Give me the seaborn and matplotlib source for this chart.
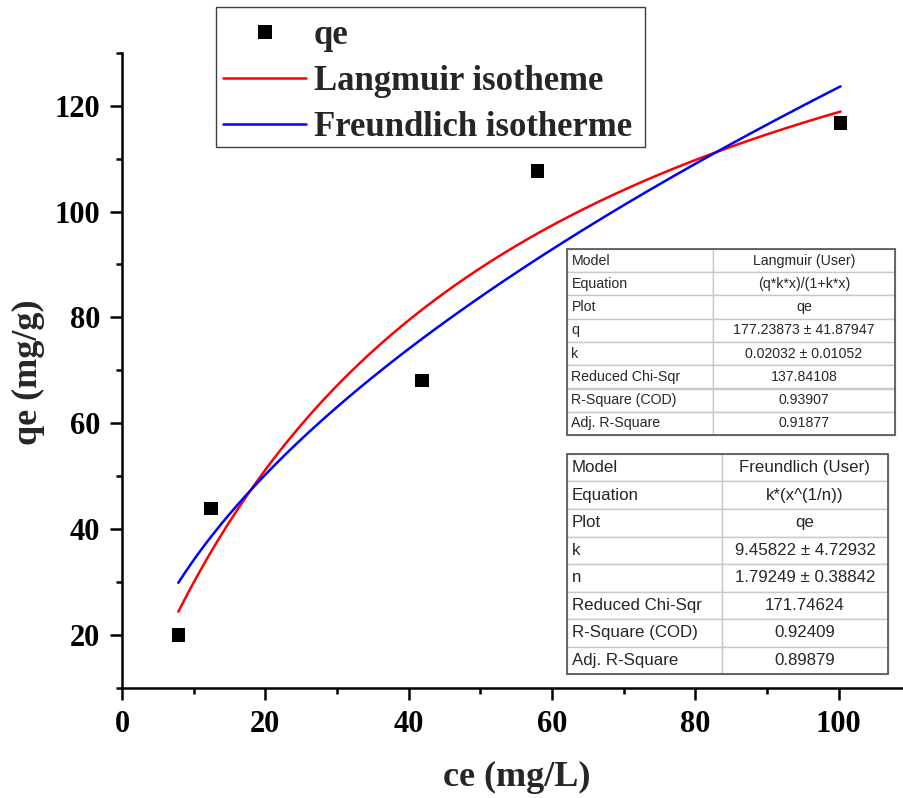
import numpy as np
import pandas as pd
import seaborn as sns
import matplotlib
matplotlib.use("Agg")
import matplotlib.pyplot as plt
from matplotlib.ticker import MultipleLocator
from matplotlib.lines import Line2D
from matplotlib.patches import Rectangle

# Experimental equilibrium data
ce = [7.86, 12.42, 41.83, 57.96, 100.25]
qe = [20.0, 43.9, 68.1, 107.7, 116.7]

# Fitted parameters
langmuir_q = 177.23873
langmuir_k = 0.02032
freundlich_k = 9.45822
freundlich_n = 1.79249

langmuir_rows = ["Model", "Equation", "Plot", "q", "k",
                 "Reduced Chi-Sqr", "R-Square (COD)", "Adj. R-Square"]
langmuir_vals = ["Langmuir (User)", "(q*k*x)/(1+k*x)", "qe",
                 "177.23873 \u00b1 41.87947", "0.02032 \u00b1 0.01052",
                 "137.84108", "0.93907", "0.91877"]
freundlich_rows = ["Model", "Equation", "Plot", "k", "n",
                   "Reduced Chi-Sqr", "R-Square (COD)", "Adj. R-Square"]
freundlich_vals = ["Freundlich (User)", "k*(x^(1/n))", "qe",
                   "9.45822 \u00b1 4.72932", "1.79249 \u00b1 0.38842",
                   "171.74624", "0.92409", "0.89879"]

sns.set_style("ticks")
plt.rcParams["font.family"] = ["Liberation Serif", "DejaVu Serif"]
plt.rcParams["font.weight"] = "bold"

W, H = 904, 798
fig = plt.figure(figsize=(W / 100, H / 100), dpi=100)
ax = fig.add_axes([122 / W, 1 - 688 / H, 782 / W, (688 - 52.7) / H])

# fitted curves over the measured range
xs = np.linspace(min(ce), max(ce), 300)
curves = pd.DataFrame({
    "ce": np.concatenate([xs, xs]),
    "qe": np.concatenate([
        langmuir_q * langmuir_k * xs / (1 + langmuir_k * xs),
        freundlich_k * xs ** (1 / freundlich_n)]),
    "model": ["Langmuir isotheme"] * len(xs) + ["Freundlich isotherme"] * len(xs),
})
points = pd.DataFrame({"ce": ce, "qe": qe})

sns.lineplot(data=curves, x="ce", y="qe", hue="model",
             palette={"Langmuir isotheme": "#ff0000",
                      "Freundlich isotherme": "#0000ff"},
             linewidth=1.8, legend=False, ax=ax, zorder=2)
sns.scatterplot(data=points, x="ce", y="qe", marker="s", s=95,
                color="black", edgecolor="none", legend=False, ax=ax, zorder=3)

ax.set_xlim(0, 109.1)
ax.set_ylim(10, 130)
ax.xaxis.set_major_locator(MultipleLocator(20))
ax.xaxis.set_minor_locator(MultipleLocator(10))
ax.yaxis.set_major_locator(MultipleLocator(20))
ax.yaxis.set_minor_locator(MultipleLocator(10))

for side in ("top", "right"):
    ax.spines[side].set_visible(False)
for side in ("left", "bottom"):
    ax.spines[side].set_linewidth(1.8)
    ax.spines[side].set_color("black")

ax.tick_params(which="major", direction="out", length=8.5, width=1.8,
               labelsize=22, pad=7, colors="black")
ax.tick_params(which="minor", direction="out", length=4.3, width=1.8,
               colors="black")
for lab in ax.get_xticklabels() + ax.get_yticklabels():
    lab.set_fontweight("bold")

ax.set_xlabel("ce (mg/L)", fontsize=26, fontweight="bold")
ax.set_ylabel("qe (mg/g)", fontsize=26, fontweight="bold")
ax.xaxis.set_label_coords(0.505, -0.115)
ax.yaxis.set_label_coords(-0.098, 0.497)

# legend entries, with a separately drawn frame around them
handles = [
    Line2D([], [], linestyle="none", marker="s", markersize=9.5,
           color="black", markeredgewidth=0),
    Line2D([], [], color="#ff0000", linewidth=1.8),
    Line2D([], [], color="#0000ff", linewidth=1.8),
]
fig.legend(handles, ["qe", "Langmuir isotheme", "Freundlich isotherme"],
           loc="upper left", bbox_to_anchor=(216 / W, 1 - 12 / H),
           borderaxespad=0,
           prop={"family": "Liberation Serif", "weight": "bold", "size": 25},
           frameon=False, handlelength=2.4, handletextpad=0.22,
           borderpad=0.2, labelspacing=0.38)
fig.patches.append(Rectangle((216 / W, 1 - 147 / H), (645 - 216) / W, 140 / H,
                             transform=fig.transFigure, fill=False,
                             edgecolor="#404040", linewidth=1.0))


def stats_table(rect, rows, vals, fontsize, split):
    tax = fig.add_axes(rect)
    tax.set_axis_off()
    cells = [[r, v] for r, v in zip(rows, vals)]
    tbl = tax.table(cellText=cells, bbox=[0, 0, 1, 1],
                    colWidths=[split, 1 - split])
    tbl.auto_set_font_size(False)
    for (r, c), cell in tbl.get_celld().items():
        cell.set_edgecolor("#c8c8c8")
        cell.set_linewidth(1.0)
        cell.set_facecolor("white")
        txt = cell.get_text()
        txt.set_fontsize(fontsize)
        txt.set_family(["Liberation Sans", "DejaVu Sans"])
        txt.set_fontweight("normal")
        if c == 0:
            cell.set_text_props(ha="left")
            cell.PAD = 0.03
        else:
            cell.set_text_props(ha="center")
    tax.add_patch(Rectangle((0, 0), 1, 1, transform=tax.transAxes,
                            fill=False, edgecolor="#505050", linewidth=1.2,
                            clip_on=False))
    return tbl


stats_table([567 / W, 1 - 435 / H, 328 / W, 186 / H],
            langmuir_rows, langmuir_vals, 10.2, 146 / 328)
stats_table([567 / W, 1 - 674 / H, 321 / W, 220 / H],
            freundlich_rows, freundlich_vals, 12.2, 155 / 321)

fig.savefig("out.png", dpi=100)
